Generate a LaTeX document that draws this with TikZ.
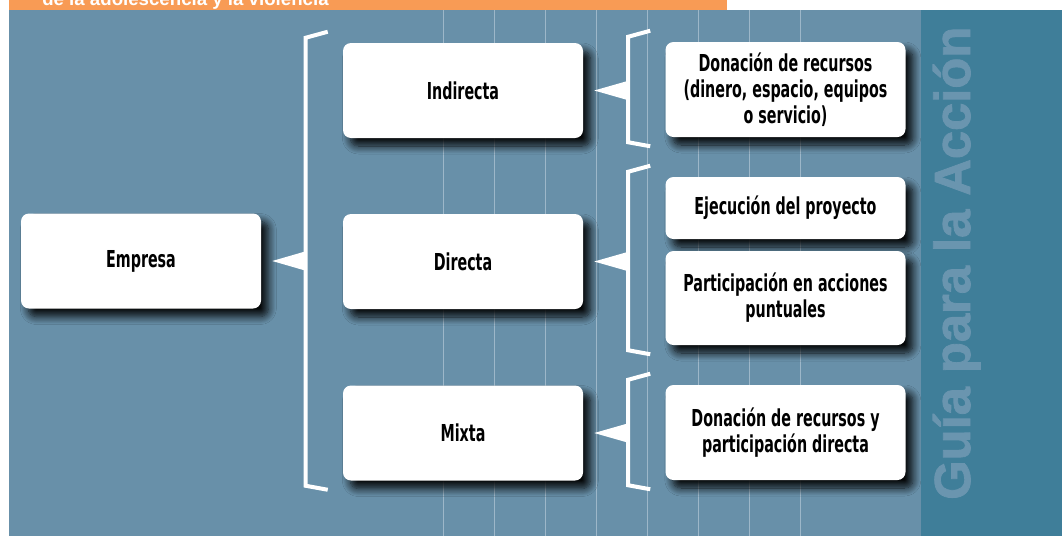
\documentclass[tikz,border=0pt]{standalone}
\usepackage{fontspec}
\setmainfont{DejaVu Sans Condensed}[FakeStretch=0.68]
\newfontfamily\guiafont{Liberation Sans}[FakeBold=1.6]
\newfontfamily\titfont{Liberation Sans}
\usepackage{tikz}
\usetikzlibrary{calc, shadows.blur}

\definecolor{panel}{HTML}{6890A9}
\definecolor{banda}{HTML}{3F7E99}
\definecolor{naranja}{HTML}{F89B55}
\definecolor{rejilla}{HTML}{9DB7C9}
\definecolor{guia}{HTML}{6A95AF}

% llave: nodo padre, primer hijo, ultimo hijo
\newcommand{\llave}[3]{%
  \coordinate (lt) at ($(#2.north west)+(-37,-5)$);
  \coordinate (lb) at ($(#3.south west)+(-37,5)$);
  \coordinate (punta) at ($(#1.east)+(11,0)$);
  \draw[llave] ($(lt)+(22,-6)$) -- (lt) -- (lb) -- ($(lb)+(22,4)$);
  \fill[white] (punta) -- ($(lt |- punta)+(1,-10)$) -- ($(lt |- punta)+(1,10)$) -- cycle;
}

\begin{document}
\begin{tikzpicture}[x=0.75pt, y=-0.75pt,
    caja/.style={fill=white, rounded corners=6pt, minimum width=180pt, minimum height=71.25pt,
      align=center, text=black, inner sep=2pt,
      font=\bfseries\fontsize{17.5}{19.5}\selectfont,
      blur shadow={shadow xshift=5.5pt, shadow yshift=-6pt, shadow blur radius=6pt,
        shadow opacity=95, shadow blur steps=10}},
    llave/.style={draw=white, line width=3pt},
    rejilla/.style={draw=rejilla, line width=0.7pt}]
  \useasboundingbox (0,0) rectangle (1062,536);

  % fondo
  \fill[naranja] (9,0) rectangle (727,10);
  \node[anchor=base west, inner sep=0pt, text=white, font=\titfont\bfseries\fontsize{14}{16}\selectfont]
    (titulo) at (42,5) {de la adolescencia y la violencia};
  \fill[panel] (9,10) rectangle (921,536);
  \fill[banda] (921,10) rectangle (1062,536);
  \foreach \x in {443,494,...,800}
    \draw[rejilla] (\x,10) -- (\x,536);
  \node[rotate=90, anchor=base west, inner sep=0pt, text=guia,
    font=\guiafont\bfseries\fontsize{38}{40}\selectfont] (guia) at (970,500) {Guía para la Acción};

  % cajas
  \node[caja] (empresa) at (141,261) {Empresa};
  \node[caja] (indirecta) at (463,90.5) {Indirecta};
  \node[caja] (directa) at (463,261.5) {Directa};
  \node[caja] (mixta) at (463,433) {Mixta};

  \node[caja] (donacion) at (785.5,89.5) {Donación de recursos\\(dinero, espacio, equipos\\o servicio)};
  \node[caja, minimum height=46.5pt] (ejecucion) at (785.5,208) {Ejecución del proyecto};
  \node[caja, minimum height=70.5pt] (participacion) at (785.5,298) {Participación en acciones\\puntuales};
  \node[caja] (donmixta) at (785.5,432.5) {Donación de recursos y\\participación directa};

  % llaves
  \llave{empresa}{indirecta}{mixta}
  \llave{indirecta}{donacion}{donacion}
  \llave{directa}{ejecucion}{participacion}
  \llave{mixta}{donmixta}{donmixta}
\end{tikzpicture}
\end{document}
